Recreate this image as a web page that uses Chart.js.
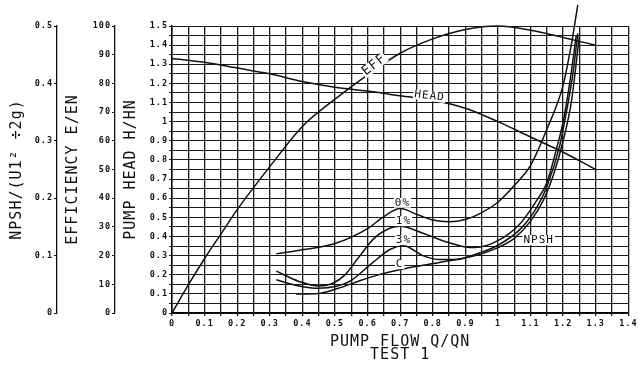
<!DOCTYPE html>
<html lang="en">
<head>
<meta charset="utf-8">
<title>Pump test 1</title>
<script src="https://cdn.jsdelivr.net/npm/chart.js@4.4.1/dist/chart.umd.min.js"></script>
<style>
  html, body { margin: 0; padding: 0; background: #fff; overflow: hidden; }
  canvas { display: block; }
</style>
</head>
<body>
<canvas id="pumpChart" width="639" height="367"></canvas>
<script>
// tick labels for the four axes
const flowLabels = ['0', '0.1', '0.2', '0.3', '0.4', '0.5', '0.6', '0.7', '0.8', '0.9', '1', '1.1', '1.2', '1.3', '1.4'];
const headLabels = ['0', '0.1', '0.2', '0.3', '0.4', '0.5', '0.6', '0.7', '0.8', '0.9', '1', '1.1', '1.2', '1.3', '1.4', '1.5'];
const effLabels = ['0', '10', '20', '30', '40', '50', '60', '70', '80', '90', '100'];
const npshLabels = ['0', '0.1', '0.2', '0.3', '0.4', '0.5'];

// pump head H/HN against flow Q/QN
const headFlow = [0, 0.1, 0.2, 0.3, 0.4, 0.5, 0.6, 0.7, 0.8, 0.9, 1.0, 1.1, 1.2, 1.3];
const headValues = [1.33, 1.31, 1.28, 1.25, 1.21, 1.18, 1.16, 1.135, 1.112, 1.07, 1.0, 0.92, 0.84, 0.75];

// efficiency E/EN in %
const effFlow = [0, 0.05, 0.1, 0.15, 0.2, 0.3, 0.4, 0.5, 0.6, 0.7, 0.8, 0.9, 1.0, 1.1, 1.2, 1.3];
const effValues = [0, 9.8, 19, 27.5, 36, 51, 65, 74.5, 83, 90.5, 95.5, 98.8, 100, 98.5, 96, 93.3];

// NPSH curves (0%, 1%, 3% head drop and C), read on the NPSH axis
const npsh0Flow = [0.32, 0.4, 0.5, 0.6, 0.65, 0.7, 0.75, 0.8, 0.85, 0.9, 0.95, 1.0, 1.05, 1.1, 1.15, 1.2, 1.225, 1.245];
const npsh0Values = [0.103, 0.110, 0.121, 0.147, 0.168, 0.182, 0.172, 0.162, 0.159, 0.163, 0.175, 0.193, 0.222, 0.257, 0.32, 0.397, 0.467, 0.537];

const npsh1Flow = [0.32, 0.39, 0.45, 0.49, 0.53, 0.57, 0.62, 0.67, 0.70, 0.77, 0.84, 0.90, 0.93, 1.0, 1.07, 1.12, 1.15, 1.18, 1.2, 1.22, 1.24];
const npsh1Values = [0.073, 0.055, 0.047, 0.051, 0.066, 0.095, 0.130, 0.148, 0.151, 0.139, 0.124, 0.115, 0.114, 0.126, 0.157, 0.197, 0.227, 0.287, 0.333, 0.40, 0.483];

const npsh3Flow = [0.32, 0.39, 0.45, 0.50, 0.55, 0.61, 0.67, 0.71, 0.77, 0.82, 0.87, 0.93, 1.0, 1.07, 1.12, 1.15, 1.19, 1.21, 1.23, 1.245];
const npsh3Values = [0.058, 0.047, 0.043, 0.046, 0.057, 0.085, 0.111, 0.117, 0.10, 0.093, 0.093, 0.102, 0.118, 0.147, 0.185, 0.22, 0.293, 0.35, 0.417, 0.487];

const npshCFlow = [0.38, 0.45, 0.51, 0.57, 0.63, 0.72, 0.77, 0.85, 0.93, 1.0, 1.05, 1.1, 1.14, 1.17, 1.2, 1.225, 1.25];
const npshCValues = [0.033, 0.034, 0.043, 0.055, 0.066, 0.078, 0.083, 0.091, 0.10, 0.114, 0.13, 0.16, 0.197, 0.24, 0.30, 0.367, 0.483];

const FONT = "'DejaVu Sans Mono', monospace";
const INK = '#111';

function toPoints(xs, ys) {
  return xs.map((x, i) => ({ x: x, y: ys[i] }));
}

function curve(label, xs, ys, axis) {
  return {
    label: label,
    data: toPoints(xs, ys),
    yAxisID: axis,
    borderColor: INK,
    borderWidth: 1.5,
    pointRadius: 0,
    fill: false,
    cubicInterpolationMode: 'monotone',
    clip: false // the 0% curve runs out over the top of the grid
  };
}

// plotter lettering is wide, so open the letters up a bit
const spacing = {
  id: 'spacing',
  beforeDraw(chart) { chart.ctx.letterSpacing = '1px'; },
  afterDraw(chart) { chart.ctx.letterSpacing = '0px'; }
};

// names written on the curves
const curveNames = {
  id: 'curveNames',
  afterDatasetsDraw(chart) {
    const ctx = chart.ctx;
    const notes = [
      ['EFF', 0.62, 86.4, 'yEff', -38, 13],
      ['HEAD', 0.79, 1.134, 'y', 7, 11],
      ['0%', 0.707, 0.192, 'yNpsh', 0, 11],
      ['1%', 0.71, 0.160, 'yNpsh', 0, 11],
      ['3%', 0.71, 0.127, 'yNpsh', 0, 11],
      ['C', 0.698, 0.085, 'yNpsh', 0, 11],
      ['NPSH', 1.125, 0.127, 'yNpsh', 0, 11]
    ];
    notes.forEach(([text, qx, qy, axis, rot, size]) => {
      const px = chart.scales.x.getPixelForValue(qx);
      const py = chart.scales[axis].getPixelForValue(qy);
      ctx.save();
      ctx.translate(px, py);
      ctx.rotate(rot * Math.PI / 180);
      ctx.font = size + 'px ' + FONT;
      ctx.textAlign = 'center';
      ctx.textBaseline = 'middle';
      const w = ctx.measureText(text).width;
      ctx.fillStyle = '#fff';
      ctx.fillRect(-w / 2 - 1, -size * 0.45, w + 2, size * 0.9);
      ctx.fillStyle = INK;
      ctx.fillText(text, 0, 0);
      ctx.restore();
    });
  }
};

const tickFont = { family: FONT, size: 8.5, weight: 'bold' };
const titleFont = { family: FONT, size: 15 };

function sideAxis(min, max, step, labels, title, width, weight, titlePad) {
  return {
    type: 'linear',
    position: 'left',
    min: min,
    max: max,
    weight: weight,
    afterFit(s) { s.width = width; },
    ticks: {
      stepSize: step,
      autoSkip: false,
      padding: 1,
      color: INK,
      font: tickFont,
      callback: (v, i) => labels[i]
    },
    grid: { drawOnChartArea: false, color: INK, tickLength: 3 },
    border: { color: INK, width: 1.3 },
    title: { display: true, text: title, color: INK, font: titleFont, padding: { top: titlePad, bottom: 0 } }
  };
}

new Chart(document.getElementById('pumpChart'), {
  type: 'line',
  data: {
    datasets: [
      curve('HEAD', headFlow, headValues, 'y'),
      curve('EFF', effFlow, effValues, 'yEff'),
      curve('0%', npsh0Flow, npsh0Values, 'yNpsh'),
      curve('1%', npsh1Flow, npsh1Values, 'yNpsh'),
      curve('3%', npsh3Flow, npsh3Values, 'yNpsh'),
      curve('C', npshCFlow, npshCValues, 'yNpsh')
    ]
  },
  options: {
    responsive: false,
    devicePixelRatio: 1,
    animation: false,
    events: [],
    layout: { padding: { left: 0, right: 8, top: 26, bottom: 0 } },
    plugins: {
      legend: { display: false },
      tooltip: { enabled: false }
    },
    scales: {
      x: {
        type: 'linear',
        min: 0,
        max: 1.4,
        afterFit(s) { s.height = 54; },
        ticks: {
          stepSize: 0.05,
          autoSkip: false,
          maxRotation: 0,
          padding: 3,
          color: INK,
          font: tickFont,
          callback: (v, i) => (i % 2 ? '' : flowLabels[i / 2])
        },
        grid: { color: '#1a1a1a', lineWidth: 1.3, tickLength: 3 },
        border: { color: '#000', width: 1.5 },
        title: {
          display: true,
          text: ['PUMP FLOW Q/QN', 'TEST 1'],
          color: INK,
          font: { family: FONT, size: 15, lineHeight: '13px' },
          padding: { top: 0, bottom: 5 }
        }
      },
      y: {
        type: 'linear',
        position: 'left',
        min: 0,
        max: 1.5,
        weight: 1,
        afterFit(s) { s.width = 57; },
        ticks: {
          stepSize: 0.05,
          autoSkip: false,
          padding: 1,
          color: INK,
          font: tickFont,
          callback: (v, i) => (i % 2 ? '' : headLabels[i / 2])
        },
        grid: { color: '#1a1a1a', lineWidth: 1, tickLength: 3 },
        border: { color: '#000', width: 1.5 },
        title: { display: true, text: 'PUMP HEAD H/HN', color: INK, font: titleFont, padding: { top: 7, bottom: 0 } }
      },
      yEff: sideAxis(0, 100, 10, effLabels, 'EFFICIENCY E/EN', 58, 2, 7),
      yNpsh: sideAxis(0, 0.5, 0.1, npshLabels, 'NPSH/(U1² ÷2g)', 57, 3, 8)
    }
  },
  plugins: [spacing, curveNames]
});
</script>
</body>
</html>
